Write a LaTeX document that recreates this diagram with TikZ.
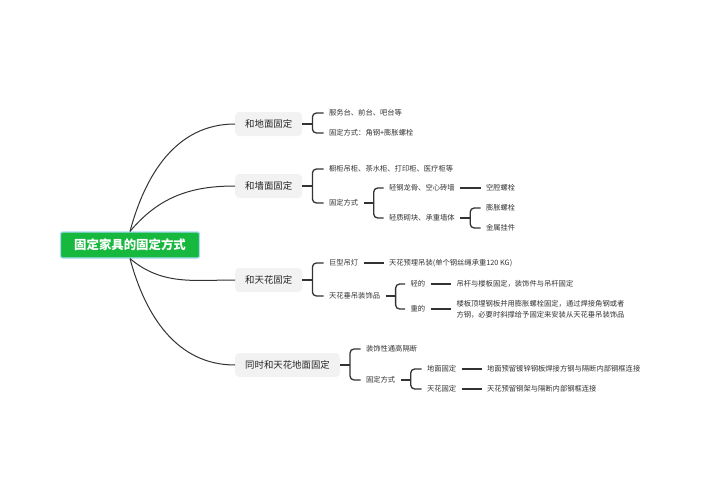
\documentclass[tikz,border=0pt]{standalone}
\usepackage{fontspec}
\setmainfont{Noto Sans CJK SC}
\usepackage{xcolor}
\usetikzlibrary{positioning}
\definecolor{rootgreen}{HTML}{16B83D}
\definecolor{rootedge}{HTML}{A6DAF5}
\definecolor{topicgray}{HTML}{F2F2F2}
\definecolor{linegray}{HTML}{333333}

\begin{document}
\begin{tikzpicture}[x=1pt, y=-1pt,
        root/.style={rectangle, rounded corners=2pt, fill=rootgreen, draw=rootedge, line width=1.2pt,
            minimum width=139pt, minimum height=26pt, text=white, font=\fontsize{12.4}{14}\selectfont\bfseries},
        topic/.style={rectangle, rounded corners=4pt, fill=topicgray, minimum height=24pt, inner xsep=10pt,
            anchor=west, text=black!85, font=\fontsize{9.4}{11}\selectfont},
        leaf/.style={inner sep=0pt, outer xsep=5.5pt, anchor=west, text=linegray, font=\fontsize{7.3}{11}\selectfont},
        branch/.style={draw=linegray, line width=1pt},
        link/.style={draw=linegray, line width=1.3pt},
        bracket/.style={link, rounded corners=4pt}
    ]
    \useasboundingbox (0,0) rectangle (703,503);

    % root and main topics
    \node[root] (R) at (130,245) {固定家具的固定方式};
    \node[topic] (T1) at (235,124) {和地面固定};
    \node[topic] (T2) at (235,186) {和墙面固定};
    \node[topic] (T3) at (235,280) {和天花固定};
    \node[topic] (T4) at (235,365) {同时和天花地面固定};

    \draw[branch] (R.north) to[out=75, in=180] (T1.west);
    \draw[branch] (R.north) to[out=50, in=180] (T2.west);
    \draw[branch] (R.south) to[out=-40, in=180] (T3.west);
    \draw[branch] (R.south) to[out=-75, in=180] (T4.west);

    % floor
    \node[leaf] (L1) at (323.5,113) {服务台、前台、吧台等};
    \node[leaf] (L2) at (323.5,133) {固定方式：角钢+膨胀螺栓};

    % wall
    \node[leaf] (L3) at (323.5,169) {橱柜吊柜、茶水柜、打印柜、医疗柜等};
    \node[leaf] (L4) at (323.5,203) {固定方式};
    \node[leaf] (L4a) at (383.5,188) {轻钢龙骨、空心砖墙};
    \node[leaf] (L4a1) at (480.5,188) {空腔螺栓};
    \node[leaf] (L4b) at (383.5,218) {轻质砌块、承重墙体};
    \node[leaf] (L4b1) at (480.5,208) {膨胀螺栓};
    \node[leaf] (L4b2) at (480.5,228) {金属挂件};

    % ceiling
    \node[leaf] (L5) at (323.5,263) {巨型吊灯};
    \node[leaf] (L5a) at (383.5,263) {天花预埋吊装(单个钢丝绳承重120 KG)};
    \node[leaf] (L6) at (323.5,296) {天花垂吊装饰品};
    \node[leaf] (L6a) at (405,284) {轻的};
    \node[leaf] (L6a1) at (451,284) {吊杆与楼板固定，装饰件与吊杆固定};
    \node[leaf] (L6b) at (405,309) {重的};
    \node[leaf, align=left] (L6b1) at (451,309) {楼板顶埋钢板并用膨胀螺栓固定，通过焊接角钢或者\\方钢，必要时斜撑给予固定来安装从天花垂吊装饰品};

    % ceiling and floor
    \node[leaf] (L7) at (360.5,349) {装饰性通高隔断};
    \node[leaf] (L8) at (360.5,380) {固定方式};
    \node[leaf] (L8a) at (421.5,369) {地面固定};
    \node[leaf] (L8a1) at (481.5,369) {地面预留镀锌钢板焊接方钢与隔断内部钢框连接};
    \node[leaf] (L8b) at (421.5,389) {天花固定};
    \node[leaf] (L8b1) at (481.5,389) {天花预留钢架与隔断内部钢框连接};

    % brackets
    \draw[link] (T1.east) -- ++(10,0) coordinate (J1);
    \foreach \c in {L1,L2} \draw[bracket] (J1) |- (\c.west);
    \draw[link] (T2.east) -- ++(10,0) coordinate (J2);
    \foreach \c in {L3,L4} \draw[bracket] (J2) |- (\c.west);
    \draw[link] (L4.east) -- ++(10,0) coordinate (J3);
    \foreach \c in {L4a,L4b} \draw[bracket] (J3) |- (\c.west);
    \draw[link] (L4b.east) -- ++(10,0) coordinate (J4);
    \foreach \c in {L4b1,L4b2} \draw[bracket] (J4) |- (\c.west);
    \draw[link] (T3.east) -- ++(10,0) coordinate (J5);
    \foreach \c in {L5,L6} \draw[bracket] (J5) |- (\c.west);
    \draw[link] (L6.east) -- ++(10,0) coordinate (J6);
    \foreach \c in {L6a,L6b} \draw[bracket] (J6) |- (\c.west);
    \draw[link] (T4.east) -- ++(10,0) coordinate (J7);
    \foreach \c in {L7,L8} \draw[bracket] (J7) |- (\c.west);
    \draw[link] (L8.east) -- ++(10,0) coordinate (J8);
    \foreach \c in {L8a,L8b} \draw[bracket] (J8) |- (\c.west);

    % straight links
    \draw[link] (L4a) -- (L4a1);
    \draw[link] (L5) -- (L5a);
    \draw[link] (L6a) -- (L6a1);
    \draw[link] (L6b) -- (L6b1);
    \draw[link] (L8a) -- (L8a1);
    \draw[link] (L8b) -- (L8b1);
\end{tikzpicture}
\end{document}
